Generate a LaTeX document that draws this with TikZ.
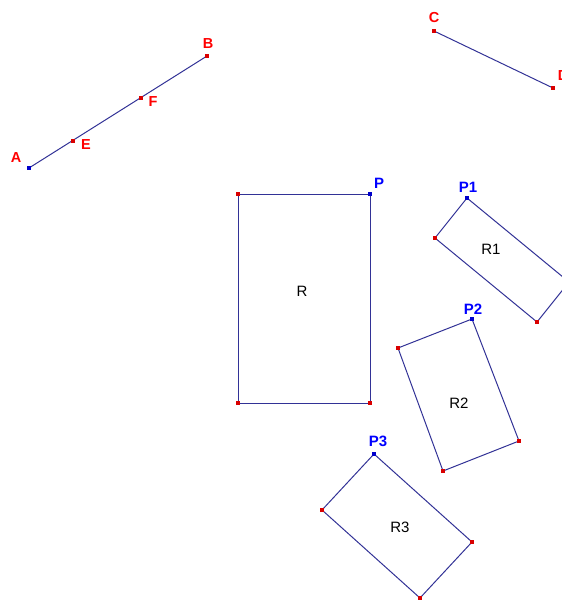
\documentclass[tikz,border=0pt]{standalone}
\usepackage{fontspec}
\setmainfont{Liberation Sans}
\begin{document}
\begin{tikzpicture}[x=1pt,y=-1pt,
  seg/.style={draw={rgb,255:red,50;green,50;blue,150},line width=1pt},
  rpt/.style={fill=red!85!black,minimum size=3.2pt,inner sep=0pt,outer sep=0pt,rectangle},
  bpt/.style={fill=blue!80!black,minimum size=3.2pt,inner sep=0pt,outer sep=0pt,rectangle},
  rlab/.style={text=red,font=\bfseries\fontsize{14.5}{14.5}\selectfont,inner sep=0pt},
  blab/.style={text=blue,font=\bfseries\fontsize{15}{15}\selectfont,inner sep=0pt},
  klab/.style={text=black,font=\fontsize{15}{15}\selectfont,inner sep=0pt}]
\useasboundingbox (0,0) rectangle (562,600);
\clip (0,0) rectangle (562,600);
% segment AB
\coordinate (A) at (29,168);
\coordinate (B) at (207,56);
\coordinate (E) at (73,141);
\coordinate (F) at (141,98);
\draw[seg] (A) -- (B);
\node[bpt] (pA) at (A) {};
\node[rpt] (pB) at (B) {};
\node[rpt] (pE) at (E) {};
\node[rpt] (pF) at (F) {};
\node[rlab] (lA) at (16,158) {A};
\node[rlab] (lB) at (208,44) {B};
\node[rlab] (lE) at (86,145) {E};
\node[rlab] (lF) at (153,102) {F};
% segment CD
\coordinate (C) at (434,31);
\coordinate (D) at (553,88);
\draw[seg] (C) -- (D);
\node[rpt] (pC) at (C) {};
\node[rpt] (pD) at (D) {};
\node[rlab] (lC) at (434,18) {C};
\node[rlab] (lD) at (563,76) {D};
% R
\coordinate (R0) at (370,194);
\coordinate (Ra) at (238,194);
\coordinate (Rb) at (238,403);
\coordinate (Rc) at (370,403);
\draw[seg] (R0) -- (Ra) -- (Rb) -- (Rc) -- cycle;
\node[rpt] at (Ra) {};
\node[rpt] at (Rb) {};
\node[rpt] at (Rc) {};
\node[bpt] at (R0) {};
\node[blab] (lP) at (379,183) {P};
\node[klab] (lR) at (302,291) {R};
% R1
\coordinate (S0) at (467,198);
\coordinate (Sa) at (435,238);
\coordinate (Sb) at (537,322);
\coordinate (Sc) at (569,282);
\draw[seg] (S0) -- (Sa) -- (Sb) -- (Sc) -- cycle;
\node[rpt] at (Sa) {};
\node[rpt] at (Sb) {};
\node[bpt] at (S0) {};
\node[blab] (lP1) at (468,187) {P1};
\node[klab] (lR1) at (491,249) {R1};
% R2
\coordinate (T0) at (472,319);
\coordinate (Ta) at (398,348);
\coordinate (Tb) at (443,471);
\coordinate (Tc) at (519,441);
\draw[seg] (T0) -- (Ta) -- (Tb) -- (Tc) -- cycle;
\node[rpt] at (Ta) {};
\node[rpt] at (Tb) {};
\node[rpt] at (Tc) {};
\node[bpt] at (T0) {};
\node[blab] (lP2) at (473,309) {P2};
\node[klab] (lR2) at (459,403) {R2};
% R3
\coordinate (U0) at (374,454);
\coordinate (Ua) at (322,510);
\coordinate (Ub) at (420,598);
\coordinate (Uc) at (472,542);
\draw[seg] (U0) -- (Ua) -- (Ub) -- (Uc) -- cycle;
\node[rpt] at (Ua) {};
\node[rpt] at (Ub) {};
\node[rpt] at (Uc) {};
\node[bpt] at (U0) {};
\node[blab] (lP3) at (378,441) {P3};
\node[klab] (lR3) at (400,527) {R3};
\end{tikzpicture}
\end{document}
